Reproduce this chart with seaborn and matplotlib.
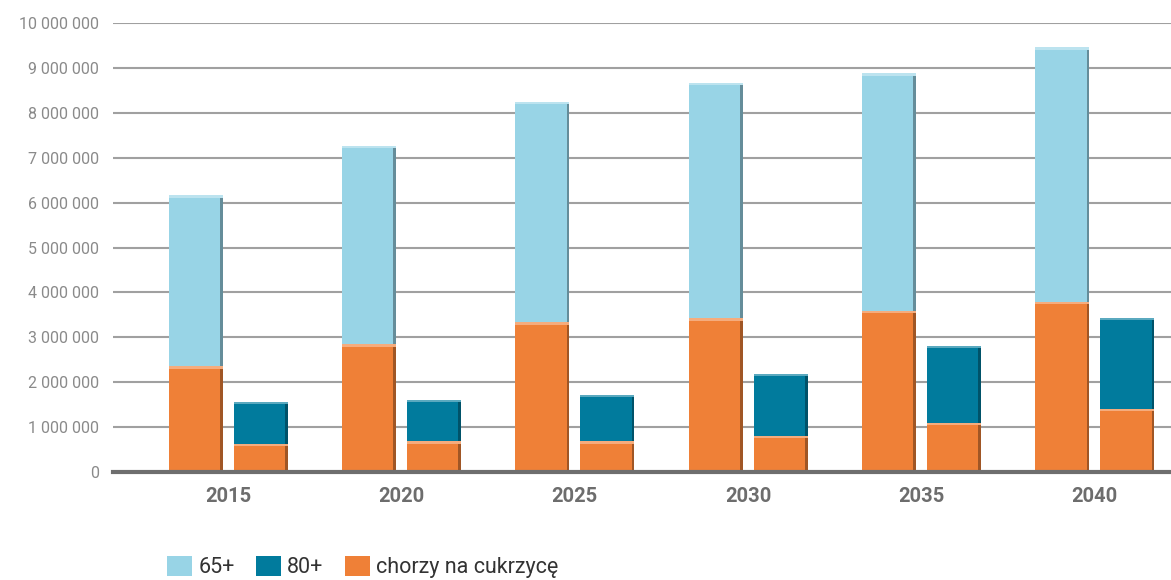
import numpy as np
import pandas as pd
import matplotlib
matplotlib.use("Agg")
import matplotlib.pyplot as plt
import matplotlib.patches as mpatches
import matplotlib.colors as mcolors
from matplotlib.ticker import FuncFormatter
import seaborn as sns

years = ["2015", "2020", "2025", "2030", "2035", "2040"]
pop_65 = [6160000, 7270000, 8250000, 8670000, 8880000, 9460000]
pop_80 = [1570000, 1610000, 1720000, 2190000, 2810000, 3430000]
diab_65 = [2360000, 2850000, 3330000, 3420000, 3590000, 3790000]
diab_80 = [630000, 680000, 680000, 810000, 1100000, 1410000]
groups = ["65+", "80+"]
legend_labels = ["65+", "80+", "chorzy na cukrzycę"]

c_light = "#98D4E6"
c_dark = "#017B9D"
c_orange = "#EF8037"

sns.set_theme(style="white")
plt.rcParams["font.family"] = ["Roboto", "DejaVu Sans"]

df = pd.DataFrame({
    "year": years * 2,
    "group": [groups[0]] * len(years) + [groups[1]] * len(years),
    "total": pop_65 + pop_80,
    "diab": diab_65 + diab_80,
})

fig = plt.figure(figsize=(11.71, 5.8), dpi=100)
ax = fig.add_axes([113 / 1171, 1 - 472 / 580, 1 - 113 / 1171, (472 - 23) / 580])

sns.barplot(data=df, x="year", y="total", hue="group", order=years,
            hue_order=groups, palette=[c_light, c_dark], width=0.75, gap=0.17,
            saturation=1, legend=False, ax=ax, zorder=3, linewidth=0)
sns.barplot(data=df, x="year", y="diab", hue="group", order=years,
            hue_order=groups, palette=[c_orange, c_orange], width=0.75, gap=0.17,
            saturation=1, legend=False, ax=ax, zorder=4, linewidth=0)

# subtle bevel effect derived from the drawn bars
for p in list(ax.patches):
    x0, y0 = p.get_x(), p.get_y()
    w, h = p.get_width(), p.get_height()
    if h <= 0:
        continue
    base = np.array(mcolors.to_rgb(p.get_facecolor()))
    dark = base * 0.45
    light = base + (1 - base) * 0.35
    z = p.get_zorder() + 0.1
    ax.add_patch(mpatches.Rectangle((x0 + w * 0.95, y0), w * 0.05, h,
                                    facecolor=dark, alpha=0.6, lw=0, zorder=z))
    ax.add_patch(mpatches.Rectangle((x0, y0 + h - 55000), w, 55000,
                                    facecolor=light, lw=0, zorder=z))

ax.set_xlim(-0.664, 5.44)
ax.set_ylim(0, 10000000)
ax.set_yticks(np.arange(0, 10000001, 1000000))
ax.yaxis.set_major_formatter(FuncFormatter(lambda v, _: f"{int(v):,}".replace(",", " ")))
ax.grid(axis="y", color="#a0a0a0", linewidth=1.5, zorder=0)
ax.set_axisbelow(True)
for s in ["left", "right", "top"]:
    ax.spines[s].set_visible(False)
ax.spines["bottom"].set_color("#6e6e6e")
ax.spines["bottom"].set_linewidth(3)
ax.spines["bottom"].set_zorder(6)
ax.tick_params(axis="y", length=0, pad=10, labelsize=11.5, labelcolor="#8a8a8a")
ax.tick_params(axis="x", length=0, pad=11, labelsize=14.5, labelcolor="#6d6d6d")
for lbl in ax.get_xticklabels():
    lbl.set_fontweight("bold")
ax.set_xlabel("")
ax.set_ylabel("")

handles = [mpatches.Patch(facecolor=c, edgecolor="none") for c in (c_light, c_dark, c_orange)]
fig.legend(handles, legend_labels, loc="center left",
           bbox_to_anchor=(167 / 1171, 1 - 567 / 580), ncol=3, frameon=False,
           fontsize=15.5, handlelength=1.15, handleheight=1.1, handletextpad=0.3,
           columnspacing=1.0, labelcolor="#333333", borderaxespad=0, borderpad=0)

fig.savefig("out.png", dpi=100)
